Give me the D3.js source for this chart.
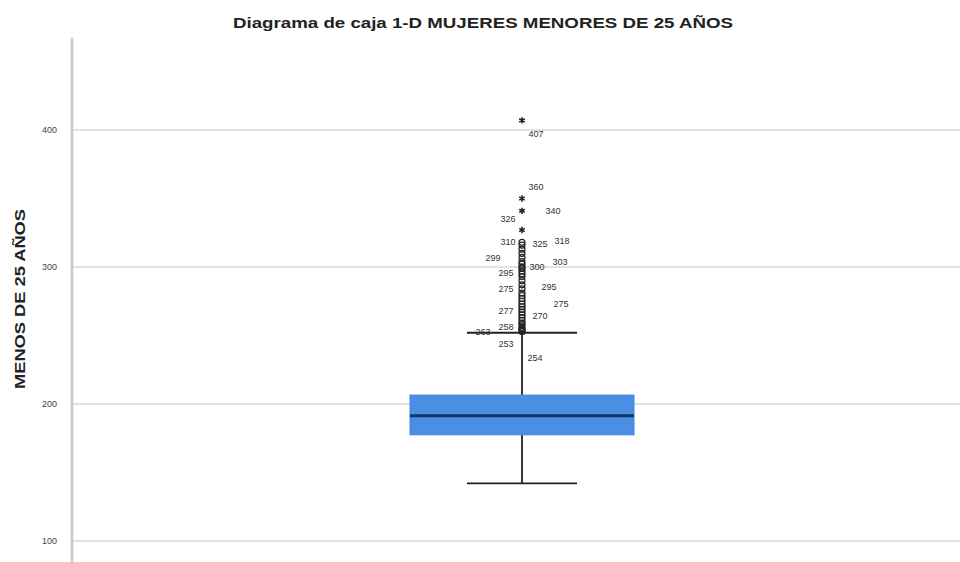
<!DOCTYPE html>
<html><head><meta charset="utf-8">
<script src="https://cdn.jsdelivr.net/npm/d3@7"></script>
<style>body{margin:0;background:#fff}svg{display:block}</style>
</head><body>
<svg id="c" width="960" height="562"></svg>
<script>
// ---- data ----
const title = "Diagrama de caja 1-D MUJERES MENORES DE 25 AÑOS";
const yTitle = "MENOS DE 25 AÑOS";
const yTicks = [100, 200, 300, 400];
const boxStats = [142, 177.5, 191.5, 206.5, 252]; // min whisker, Q1, median, Q3, max whisker
const extremeValues = [407, 350, 341, 327];
const mildValues = [318, 316, 313, 310, 307, 304, 302, 300, 299, 297, 295, 293, 290, 287, 284, 281, 279, 277, 275, 273, 271, 269, 267, 265, 263, 261, 259, 258, 256, 255, 254, 253];
const pointLabels = ["407","360","340","326","310","325","318","299","295","300","303","275","295","275","277","270","258","263","253","254"];
const labelValues = [407, 360, 340, 326, 310, 325, 318, 299, 295, 300, 303, 275, 295, 275, 277, 270, 258, 263, 253, 254];
// ---- layout: label placement (px, relative to centre line and to the labelled value) ----
const labelShift = [[14,13],[14,2],[31,-1],[-14,-13],[-14,-11],[18,11],[40,-1],[-29,-11],[-16,-1],[15,0],[38,-1],[-16,-12],[27,13],[39,3],[-16,12],[18,8],[-16,2],[-39,14],[-16,12],[13,28]];

const svg = d3.select("#c");
const W = 960, H = 562;
const y = d3.scaleLinear().domain([100, 400]).range([541, 130]);
const xc = 522, boxHalf = 112, capHalf = 55;
const axisX = 72;
const font = "Liberation Sans, Arial, sans-serif";

// gridlines
svg.append("g").selectAll("line").data(yTicks).join("line")
  .attr("x1", axisX).attr("x2", W).attr("y1", d => y(d)).attr("y2", d => y(d))
  .attr("stroke", "#d9d9d9").attr("stroke-width", 1.5);

// axis
const ax = svg.append("g").attr("transform", `translate(${axisX},0)`)
  .call(d3.axisLeft(y).tickValues(yTicks).tickSize(0).tickPadding(15));
ax.select(".domain").remove();
ax.selectAll("text").attr("font-family", font).attr("font-size", 9).attr("fill", "#444");
svg.append("line").attr("x1", axisX).attr("x2", axisX).attr("y1", 38).attr("y2", H)
  .attr("stroke", "#c8c8c8").attr("stroke-width", 2.5);

// titles
svg.append("text").attr("x", 483).attr("y", 28).attr("text-anchor", "middle")
  .attr("font-family", font).attr("font-weight", "bold").attr("font-size", 15).attr("fill", "#222")
  .attr("textLength", 500).attr("lengthAdjust", "spacingAndGlyphs").text(title);
svg.append("text").attr("transform", `translate(25,299) rotate(-90)`).attr("text-anchor", "middle")
  .attr("font-family", font).attr("font-weight", "bold").attr("font-size", 15).attr("fill", "#222")
  .attr("textLength", 180).attr("lengthAdjust", "spacingAndGlyphs").text(yTitle);

// whiskers
const g = svg.append("g");
g.append("line").attr("x1", xc).attr("x2", xc).attr("y1", y(boxStats[0])).attr("y2", y(boxStats[1])).attr("stroke", "#222").attr("stroke-width", 1.8);
g.append("line").attr("x1", xc).attr("x2", xc).attr("y1", y(boxStats[3])).attr("y2", y(boxStats[4])).attr("stroke", "#222").attr("stroke-width", 1.8);
[boxStats[0], boxStats[4]].forEach(v => g.append("line").attr("x1", xc - capHalf).attr("x2", xc + capHalf).attr("y1", y(v)).attr("y2", y(v)).attr("stroke", "#222").attr("stroke-width", 1.8));
// box
g.append("rect").attr("x", xc - boxHalf).attr("width", 2 * boxHalf)
  .attr("y", y(boxStats[3])).attr("height", y(boxStats[1]) - y(boxStats[3]))
  .attr("fill", "#4a8fe3").attr("stroke", "#3f86dc").attr("stroke-width", 1);
g.append("line").attr("x1", xc - boxHalf).attr("x2", xc + boxHalf).attr("y1", y(boxStats[2])).attr("y2", y(boxStats[2]))
  .attr("stroke", "#13355f").attr("stroke-width", 3);

// mild outliers
g.append("g").selectAll("circle").data(mildValues).join("circle")
  .attr("cx", xc).attr("cy", d => y(d)).attr("r", 3).attr("fill", "none").attr("stroke", "#222").attr("stroke-width", 1.2);
// extreme outliers (stars)
const star = d3.symbol().type(d3.symbolAsterisk || d3.symbolCross).size(28);
g.append("g").selectAll("path").data(extremeValues).join("path")
  .attr("transform", d => `translate(${xc},${y(d)})`).attr("d", star).attr("fill", "#222").attr("stroke", "#222").attr("stroke-width", 1.6);

// labels
g.append("g").selectAll("text").data(pointLabels).join("text")
  .attr("x", (d, i) => xc + labelShift[i][0])
  .attr("y", (d, i) => y(labelValues[i]) + labelShift[i][1])
  .attr("dy", "0.35em")
  .attr("text-anchor", "middle")
  .attr("font-family", font).attr("font-size", 9).attr("fill", "#333").text(d => d);
</script>
</body></html>
